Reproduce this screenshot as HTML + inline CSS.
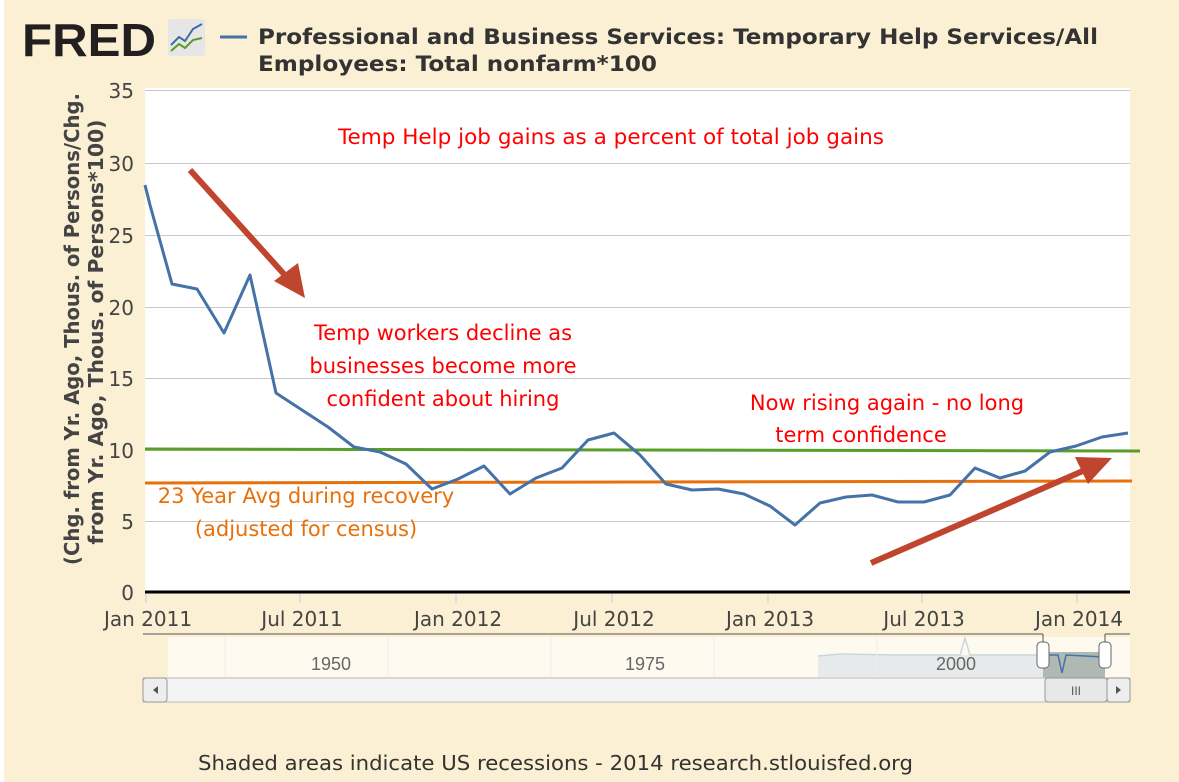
<!DOCTYPE html>
<html><head><meta charset="utf-8"><style>
html,body{margin:0;padding:0;background:#fff;}
svg{display:block;font-family:"Liberation Sans","DejaVu Sans",sans-serif;}
</style></head><body>
<svg width="1179" height="782" viewBox="0 0 1179 782">
<rect x="4" y="0" width="1175" height="782" fill="#FBF0D3"/>
<!-- logo -->
<text x="22" y="56" font-size="46" font-weight="bold" fill="#231f20" font-family="Liberation Sans, sans-serif" textLength="134" lengthAdjust="spacingAndGlyphs">FRED</text>
<rect x="168" y="19" width="37" height="37" rx="3" fill="#e6e6e6"/>
<polyline points="171,45 179,37 185,41 193,29 202,24" fill="none" stroke="#3a6ea5" stroke-width="2"/>
<polyline points="171,51 179,44 185,48 193,40 202,38" fill="none" stroke="#5a9a2a" stroke-width="2"/>
<line x1="220" y1="37" x2="247" y2="37" stroke="#4572a7" stroke-width="3"/>
<text x="258" y="44" font-size="21" font-weight="bold" fill="#333" font-family="DejaVu Sans, sans-serif" textLength="840" lengthAdjust="spacingAndGlyphs">Professional and Business Services: Temporary Help Services/All</text>
<text x="258" y="71" font-size="21" font-weight="bold" fill="#333" font-family="DejaVu Sans, sans-serif" textLength="399" lengthAdjust="spacingAndGlyphs">Employees: Total nonfarm*100</text>
<!-- plot -->
<rect x="145" y="88" width="985" height="504" fill="#fff"/>
<g stroke="#c8c8c8" stroke-width="1">
<line x1="145" y1="90.5" x2="1130" y2="90.5"/><line x1="145" y1="163.5" x2="1130" y2="163.5"/>
<line x1="145" y1="235.5" x2="1130" y2="235.5"/><line x1="145" y1="307.5" x2="1130" y2="307.5"/>
<line x1="145" y1="378.5" x2="1130" y2="378.5"/><line x1="145" y1="450.5" x2="1130" y2="450.5"/>
<line x1="145" y1="521.5" x2="1130" y2="521.5"/>
</g>
<g stroke="#c0d0e0" stroke-width="1">
<line x1="146" y1="593" x2="146" y2="603"/><line x1="300" y1="593" x2="300" y2="603"/><line x1="456" y1="593" x2="456" y2="603"/><line x1="612" y1="593" x2="612" y2="603"/><line x1="768" y1="593" x2="768" y2="603"/><line x1="922" y1="593" x2="922" y2="603"/><line x1="1077" y1="593" x2="1077" y2="603"/>
</g>
<line x1="145" y1="592" x2="1130" y2="592" stroke="#000" stroke-width="3"/>
<g font-size="20" fill="#444" text-anchor="end" font-family="DejaVu Sans, sans-serif">
<text x="134" y="98">35</text><text x="134" y="171">30</text><text x="134" y="243">25</text><text x="134" y="315">20</text><text x="134" y="386">15</text><text x="134" y="458">10</text><text x="134" y="529">5</text><text x="134" y="600">0</text>
</g>
<g font-size="20" fill="#444" text-anchor="middle" font-family="DejaVu Sans, sans-serif">
<text x="148" y="626">Jan 2011</text><text x="302" y="626">Jul 2011</text><text x="458" y="626">Jan 2012</text><text x="614" y="626">Jul 2012</text><text x="770" y="626">Jan 2013</text><text x="924" y="626">Jul 2013</text><text x="1079" y="626">Jan 2014</text>
</g>
<text transform="translate(79,329) rotate(-90)" font-size="20" font-weight="bold" fill="#444" text-anchor="middle" font-family="DejaVu Sans, sans-serif" textLength="472" lengthAdjust="spacingAndGlyphs">(Chg. from Yr. Ago, Thous. of Persons/Chg.</text>
<text transform="translate(103,332) rotate(-90)" font-size="20" font-weight="bold" fill="#444" text-anchor="middle" font-family="DejaVu Sans, sans-serif" textLength="425" lengthAdjust="spacingAndGlyphs">from Yr. Ago, Thous. of Persons*100)</text>
<!-- lines -->
<line x1="145" y1="449" x2="1140" y2="451" stroke="#5a9e2a" stroke-width="3"/>
<line x1="145" y1="483" x2="1132" y2="481" stroke="#e8700a" stroke-width="3"/>
<polyline fill="none" stroke="#4572a7" stroke-width="3" stroke-linejoin="round" points="145,185 150,205 172,284 197,289 224,333 250,275 276,393 302,410 328,427 354,447 380,452 406,464 432,489 458,479 484,466 510,494 536,478 562,468 588,440 614,433 640,455 666,484 692,490 718,489 744,494 770,506 795,525 820,503 846,497 872,495 898,502 924,502 950,495 975,468 1000,478 1025,471 1050,452 1076,446 1102,437 1128,433"/>
<!-- arrows -->
<line x1="190" y1="170" x2="292" y2="283" stroke="#c0452f" stroke-width="6"/>
<polygon points="305,298 274,281 298,263" fill="#c0452f"/>
<line x1="871" y1="563" x2="1092" y2="467" stroke="#c0452f" stroke-width="6"/>
<polygon points="1112,458 1075,457 1088,484" fill="#c0452f"/>
<!-- annotations -->
<g font-size="21" fill="#f00" text-anchor="middle" font-family="DejaVu Sans, sans-serif">
<text x="611" y="144" textLength="546" lengthAdjust="spacingAndGlyphs">Temp Help job gains as a percent of total job gains</text>
<text x="443" y="340">Temp workers decline as</text>
<text x="443" y="373">businesses become more</text>
<text x="443" y="406">confident about hiring</text>
<text x="887" y="410">Now rising again - no long</text>
<text x="861" y="442">term confidence</text>
</g>
<g font-size="21" fill="#e8700a" text-anchor="middle" font-family="DejaVu Sans, sans-serif">
<text x="306" y="503">23 Year Avg during recovery</text>
<text x="306" y="536">(adjusted for census)</text>
</g>
<!-- navigator -->
<rect x="168" y="637" width="962" height="40" fill="#fffaef"/>
<rect x="818" y="655" width="228" height="22" fill="#e6eaea"/>
<polyline points="818,656 840,654 900,655 960,655 965,638 970,655 1046,655" fill="none" stroke="#c9d6e0" stroke-width="1.5"/>
<rect x="1043" y="652" width="62" height="26" fill="#b0b8b4"/>
<polyline points="1046,655 1058,655 1062,673 1066,655 1104,657" fill="none" stroke="#4572a7" stroke-width="1.5"/>
<line x1="143" y1="634" x2="1043" y2="634" stroke="#555" stroke-width="1"/>
<line x1="1043" y1="634" x2="1043" y2="652" stroke="#555"/>
<line x1="1105" y1="634" x2="1105" y2="652" stroke="#555"/>
<line x1="1105" y1="634" x2="1130" y2="634" stroke="#555"/>
<line x1="225" y1="637" x2="225" y2="677" stroke="#eee"/><line x1="388" y1="637" x2="388" y2="677" stroke="#eee"/><line x1="551" y1="637" x2="551" y2="677" stroke="#eee"/><line x1="714" y1="637" x2="714" y2="677" stroke="#eee"/><line x1="877" y1="637" x2="877" y2="677" stroke="#eee"/>
<g font-size="18" fill="#666" font-family="Liberation Sans, sans-serif"><text x="311" y="670">1950</text><text x="625" y="670">1975</text><text x="936" y="670">2000</text></g>
<rect x="1037" y="642" width="12" height="26" rx="4" fill="#fff" stroke="#666"/>
<rect x="1099" y="642" width="12" height="26" rx="4" fill="#fff" stroke="#666"/>
<rect x="143" y="678" width="987" height="24" fill="#f4f4f4" stroke="#bbb"/>
<rect x="143" y="678" width="24" height="24" rx="3" fill="#eee" stroke="#999"/>
<polygon points="158,686 158,694 153,690" fill="#555"/>
<rect x="1045" y="678" width="62" height="24" rx="3" fill="#e8e8e8" stroke="#999"/>
<text x="1076" y="695" font-size="12" fill="#555" text-anchor="middle">III</text>
<rect x="1107" y="678" width="23" height="24" rx="3" fill="#eee" stroke="#999"/>
<polygon points="1116,686 1116,694 1121,690" fill="#555"/>
<text x="198" y="770" font-size="20" fill="#333" font-family="DejaVu Sans, sans-serif" textLength="715" lengthAdjust="spacingAndGlyphs">Shaded areas indicate US recessions - 2014 research.stlouisfed.org</text>
</svg>
</body></html>
